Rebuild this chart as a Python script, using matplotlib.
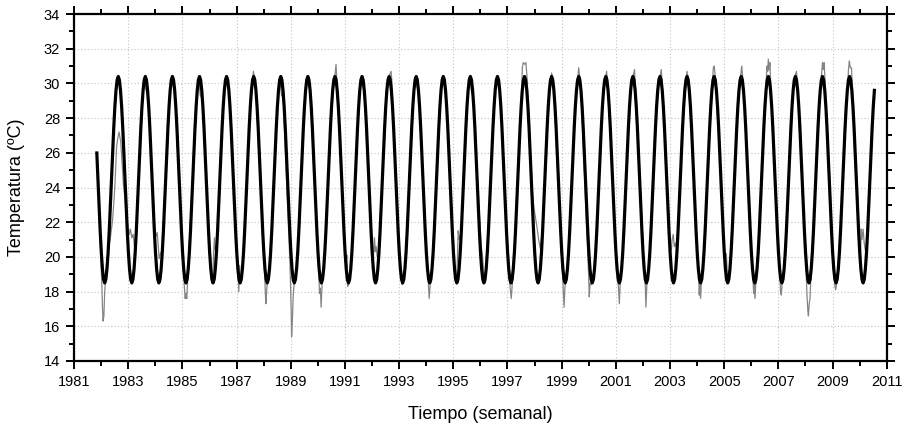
import numpy as np
import matplotlib
matplotlib.use('Agg')
from matplotlib import pyplot as plt
from matplotlib.ticker import MultipleLocator

# fitted annual cycle (black), one year sampled every 1/24 yr starting at the peak
fit_cycle = [30.40, 30.20, 29.60, 28.66, 27.43, 25.99, 24.45, 22.91, 21.48, 20.24, 19.30, 18.70,
             18.50, 18.70, 19.30, 20.24, 21.48, 22.91, 24.45, 25.99, 27.43, 28.66, 29.60, 30.20]
fit_first_peak = 1981.63
fit_n_years = 29
fit_start_idx = 5
fit_end_idx = 28 * 24 + 23

year_ticks = list(range(1981, 2012, 2))
temp_ticks = list(range(14, 35, 2))

obs = [
    (1981.84, 26.0), (1981.96, 21.0), (1982.02, 18.6), (1982.05, 17.0), (1982.07, 16.3), (1982.10, 16.6),
    (1982.13, 18.0), (1982.20, 19.6), (1982.27, 20.6), (1982.33, 21.0), (1982.42, 22.1), (1982.47, 23.2),
    (1982.51, 24.2), (1982.57, 26.4), (1982.62, 26.9), (1982.66, 27.2), (1982.69, 26.9), (1982.72, 26.7),
    (1982.77, 25.4), (1982.82, 24.2), (1982.92, 22.7), (1982.97, 22.0), (1983.00, 21.7), (1983.04, 21.3),
    (1983.08, 21.6), (1983.13, 21.1), (1983.18, 21.3), (1983.23, 20.6), (1983.27, 20.7),
    (1983.55, 29.66), (1983.61, 30.0), (1983.64, 29.7), (1983.69, 29.4), (1983.73, 29.0),
    (1983.98, 21.6), (1984.03, 21.2), (1984.07, 21.4), (1984.11, 20.5), (1984.14, 19.9), (1984.19, 20.2), (1984.26, 20.4),
    (1984.55, 29.66), (1984.63, 30.4), (1984.71, 29.66),
    (1985.03, 19.4), (1985.07, 18.3), (1985.10, 17.6), (1985.13, 17.9), (1985.16, 17.6), (1985.21, 19.3),
    (1985.55, 29.66), (1985.62, 29.9), (1985.66, 29.3), (1985.71, 29.2), (1985.74, 28.8),
    (1986.04, 19.24), (1986.08, 18.5), (1986.12, 18.8), (1986.15, 20.2), (1986.18, 21.1), (1986.21, 20.4), (1986.25, 20.5),
    (1986.55, 29.66), (1986.62, 30.2), (1986.67, 29.8), (1986.72, 29.6),
    (1987.05, 19.24), (1987.08, 18.0), (1987.11, 19.5), (1987.14, 18.6), (1987.21, 19.24),
    (1987.55, 29.66), (1987.62, 30.7), (1987.65, 30.4), (1987.71, 29.66),
    (1988.03, 19.4), (1988.06, 17.9), (1988.08, 17.3), (1988.12, 18.3), (1988.21, 19.24),
    (1988.55, 29.66), (1988.62, 29.9), (1988.66, 29.3), (1988.72, 29.2),
    (1988.97, 19.6), (1989.01, 17.2), (1989.03, 15.4), (1989.06, 16.4), (1989.09, 17.8), (1989.13, 18.6), (1989.21, 19.24),
    (1989.55, 29.66), (1989.63, 30.3), (1989.71, 29.66),
    (1990.03, 19.3), (1990.06, 17.9), (1990.09, 18.2), (1990.12, 17.1), (1990.16, 18.6), (1990.21, 19.24),
    (1990.55, 29.66), (1990.62, 30.3), (1990.67, 31.1), (1990.70, 30.2), (1990.74, 29.0),
    (1991.02, 20.3), (1991.05, 19.8), (1991.07, 20.1), (1991.10, 18.3), (1991.14, 18.5), (1991.21, 19.24),
    (1991.55, 29.66), (1991.63, 30.2), (1991.67, 29.8), (1991.72, 29.5),
    (1992.03, 19.4), (1992.07, 20.6), (1992.09, 21.1), (1992.12, 20.3), (1992.15, 20.6), (1992.19, 20.0), (1992.24, 20.0),
    (1992.55, 29.66), (1992.63, 30.4), (1992.70, 30.7), (1992.73, 30.2), (1992.76, 28.6),
    (1993.03, 19.6), (1993.07, 19.2), (1993.11, 18.4), (1993.15, 18.6), (1993.21, 19.24),
    (1993.55, 29.66), (1993.63, 30.1), (1993.68, 29.7), (1993.72, 29.4),
    (1994.05, 19.24), (1994.09, 18.2), (1994.11, 17.6), (1994.14, 18.3), (1994.21, 19.24),
    (1994.55, 29.66), (1994.63, 30.4), (1994.71, 29.66),
    (1995.05, 19.24), (1995.12, 18.6), (1995.15, 19.8), (1995.18, 21.5), (1995.21, 21.0), (1995.24, 21.2), (1995.28, 21.0),
    (1995.55, 29.66), (1995.62, 30.4), (1995.66, 29.6), (1995.69, 29.4), (1995.72, 29.3),
    (1996.03, 20.6), (1996.07, 20.2), (1996.10, 19.6), (1996.13, 18.7), (1996.17, 19.0), (1996.21, 19.24),
    (1996.55, 29.66), (1996.63, 30.4), (1996.68, 29.9), (1996.73, 29.4),
    (1997.05, 19.24), (1997.10, 18.2), (1997.14, 17.6), (1997.17, 18.3), (1997.22, 19.4),
    (1997.52, 29.5), (1997.55, 30.9), (1997.58, 31.2), (1997.64, 31.1), (1997.68, 31.2), (1997.72, 30.4),
    (1997.76, 29.0), (1997.80, 27.5), (1997.91, 23.9), (1997.98, 22.8), (1998.04, 22.2), (1998.10, 21.6),
    (1998.15, 21.0), (1998.21, 20.5), (1998.25, 20.9), (1998.30, 21.8),
    (1998.55, 29.66), (1998.63, 30.6), (1998.67, 30.2), (1998.71, 29.66),
    (1999.03, 19.0), (1999.06, 18.0), (1999.09, 17.1), (1999.12, 18.2), (1999.16, 18.9), (1999.21, 19.24),
    (1999.55, 29.66), (1999.63, 30.9), (1999.67, 30.3), (1999.71, 29.66),
    (1999.99, 19.2), (2000.02, 17.7), (2000.05, 18.5), (2000.09, 18.4), (2000.14, 18.6), (2000.21, 19.24),
    (2000.55, 29.66), (2000.63, 30.4), (2000.66, 30.7), (2000.71, 29.66),
    (2001.05, 19.24), (2001.10, 18.2), (2001.13, 17.3), (2001.16, 18.4), (2001.21, 19.24),
    (2001.55, 29.66), (2001.63, 30.4), (2001.69, 30.8), (2001.72, 29.8), (2001.76, 29.0),
    (2002.05, 19.24), (2002.09, 18.3), (2002.11, 17.1), (2002.15, 18.5), (2002.21, 19.24),
    (2002.55, 29.66), (2002.63, 30.4), (2002.68, 30.8), (2002.72, 29.7),
    (2003.00, 20.8), (2003.05, 20.4), (2003.08, 21.0), (2003.12, 21.3), (2003.16, 20.6), (2003.20, 20.8), (2003.25, 20.4),
    (2003.55, 29.66), (2003.63, 30.7), (2003.67, 30.3), (2003.72, 29.2),
    (2004.05, 19.24), (2004.08, 17.8), (2004.10, 18.4), (2004.13, 17.6), (2004.16, 18.6), (2004.21, 19.24),
    (2004.55, 29.66), (2004.60, 30.9), (2004.63, 31.0), (2004.66, 30.6), (2004.71, 29.66),
    (2005.05, 19.24), (2005.08, 20.2), (2005.10, 19.6), (2005.13, 18.6), (2005.17, 19.0), (2005.21, 19.24),
    (2005.55, 29.66), (2005.62, 30.6), (2005.65, 31.0), (2005.68, 30.4), (2005.72, 29.5),
    (2006.05, 19.24), (2006.09, 17.9), (2006.11, 18.4), (2006.14, 17.6), (2006.17, 18.5), (2006.21, 19.24),
    (2006.55, 30.0), (2006.58, 31.0), (2006.61, 30.7), (2006.63, 31.4), (2006.66, 30.8), (2006.69, 31.2), (2006.72, 29.8),
    (2007.05, 19.24), (2007.08, 18.0), (2007.11, 17.8), (2007.14, 18.5), (2007.21, 19.24),
    (2007.55, 29.66), (2007.63, 30.5), (2007.67, 30.7), (2007.71, 29.66),
    (2008.03, 19.0), (2008.06, 17.7), (2008.09, 16.9), (2008.11, 16.6), (2008.14, 17.3), (2008.17, 17.6),
    (2008.20, 18.8), (2008.23, 19.6),
    (2008.55, 29.66), (2008.60, 30.6), (2008.63, 31.2), (2008.66, 30.8), (2008.69, 31.2), (2008.73, 30.0),
    (2009.05, 19.24), (2009.09, 18.3), (2009.12, 18.1), (2009.16, 18.6), (2009.21, 19.24),
    (2009.55, 29.66), (2009.59, 30.8), (2009.62, 31.3), (2009.66, 30.9), (2009.70, 30.9), (2009.74, 29.6),
    (2010.03, 19.8), (2010.06, 21.6), (2010.09, 21.0), (2010.13, 21.6), (2010.17, 20.8), (2010.21, 20.4),
]
obs_year = np.array([p[0] for p in obs])
obs_temp = np.array([p[1] for p in obs])

fit_temp = np.tile(fit_cycle, fit_n_years)[fit_start_idx:fit_end_idx]
fit_year = fit_first_peak + np.arange(fit_start_idx, fit_end_idx) / len(fit_cycle)

plt.rcParams['font.family'] = ['Liberation Sans', 'DejaVu Sans']

fig = plt.figure(figsize=(9.07, 4.30), dpi=100)
ax = fig.add_axes([0.0817, 0.1605, 0.8959, 0.8069])

ax.plot(obs_year, obs_temp, color='#858585', linewidth=0.9, zorder=2)
ax.plot(fit_year, fit_temp, color='black', linewidth=2.3, zorder=3)

ax.set_xlim(1981, 2011)
ax.set_ylim(14, 34)
ax.set_xticks(year_ticks)
ax.set_yticks(temp_ticks)
ax.xaxis.set_minor_locator(MultipleLocator(1))
ax.yaxis.set_minor_locator(MultipleLocator(1))

ax.grid(True, which='major', linestyle=(0, (1, 2)), color='#c4c4c4', linewidth=0.8, zorder=0)
ax.tick_params(which='both', direction='out', top=True, right=True, labeltop=False, labelright=False,
               width=1.4, labelsize=10.5)
ax.tick_params(which='major', length=6, pad=4)
ax.tick_params(which='minor', length=3.5)
for s in ax.spines.values():
    s.set_linewidth(1.6)

ax.set_xlabel('Tiempo (semanal)', fontsize=13)
ax.set_ylabel('Temperatura (ºC)', fontsize=13)
ax.xaxis.set_label_coords(0.5, -0.13)
ax.yaxis.set_label_coords(-0.06, 0.5)

plt.savefig('out.png', dpi=100)
plt.close()
